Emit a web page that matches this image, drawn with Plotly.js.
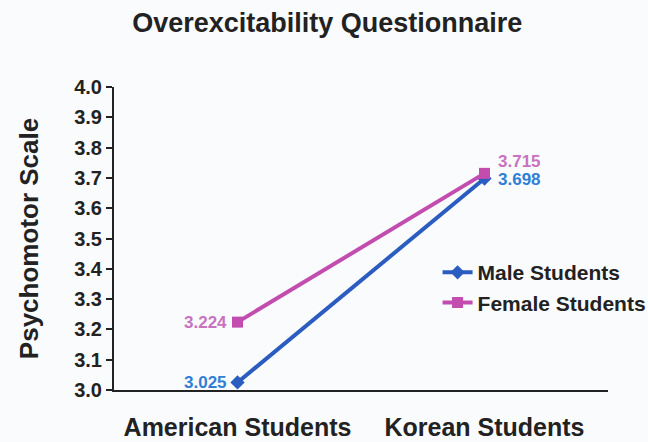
<!DOCTYPE html>
<html><head><meta charset="utf-8">
<script src="https://cdn.plot.ly/plotly-3.0.1.min.js"></script>
<style>body{margin:0;background:#fafbfd}</style>
</head><body>
<div id="chart" style="width:648px;height:442px"></div>
<script>
const categories = ["American Students", "Korean Students"];
const maleValues = [3.025, 3.698];
const femaleValues = [3.224, 3.715];
const maleLabels = ["3.025", "3.698"];
const femaleLabels = ["3.224", "3.715"];
const yTicks = [3.0,3.1,3.2,3.3,3.4,3.5,3.6,3.7,3.8,3.9,4.0];

const F = "Liberation Sans, Arial, sans-serif";
const blue = "#2b5cc0", magenta = "#c24daf";
const blueText = "#2f7fd6", magentaText = "#c872c0";

const traces = [
  {x: categories, y: maleValues, name: "Male Students", mode: "lines+markers",
   line: {color: blue, width: 4}, marker: {symbol: "diamond", size: 11, color: blue}, cliponaxis: false},
  {x: categories, y: femaleValues, name: "Female Students", mode: "lines+markers",
   line: {color: magenta, width: 4}, marker: {symbol: "square", size: 11, color: magenta}, cliponaxis: false}
];

// label placement per point (style only)
const maleShift = [{xa: "right", xs: -9, ys: 0}, {xa: "left", xs: 11, ys: -1}];
const femaleShift = [{xa: "right", xs: -9, ys: 0}, {xa: "left", xs: 11, ys: 12}];
const annotations = [];
categories.forEach((c, i) => {
  annotations.push({x: c, y: maleValues[i], text: "<b>" + maleLabels[i] + "</b>", showarrow: false,
    xanchor: maleShift[i].xa, yanchor: "middle", xshift: maleShift[i].xs, yshift: maleShift[i].ys,
    font: {family: F, size: 17, color: blueText}});
  annotations.push({x: c, y: femaleValues[i], text: "<b>" + femaleLabels[i] + "</b>", showarrow: false,
    xanchor: femaleShift[i].xa, yanchor: "middle", xshift: femaleShift[i].xs, yshift: femaleShift[i].ys,
    font: {family: F, size: 17, color: magentaText}});
});

const layout = {
  width: 648, height: 442,
  paper_bgcolor: "#fafbfd", plot_bgcolor: "#fafbfd",
  margin: {l: 114, r: 40, t: 87, b: 52, autoexpand: false},
  title: {text: "<b>Overexcitability Questionnaire</b>", font: {family: F, size: 27, color: "#222"},
          x: 0.505, xanchor: "center", y: 0.95, yanchor: "middle", yref: "container"},
  xaxis: {type: "category", range: [-0.5, 1.5], showgrid: false, zeroline: false,
          showline: true, linecolor: "#222", linewidth: 2, ticks: "", ticklabelstandoff: 14,
          tickfont: {family: F, size: 25, color: "#222", weight: "bold"}},
  yaxis: {range: [3.0, 4.0], tickvals: yTicks, ticktext: yTicks.map(v => v.toFixed(1)),
          showgrid: false, zeroline: false, showline: true, linecolor: "#222", linewidth: 2,
          ticks: "outside", ticklen: 6, tickcolor: "#222", tickwidth: 1.5,
          tickfont: {family: F, size: 20, color: "#222", weight: "bold"},
          title: {text: "<b>Psychomotor Scale</b>", font: {family: F, size: 26, color: "#222"}, standoff: 28}},
  legend: {x: 0.655, y: 0.455, xanchor: "left", yanchor: "top", bgcolor: "rgba(0,0,0,0)",
           font: {family: F, size: 21, color: "#222", weight: "bold"}, tracegroupgap: 0},
  annotations: annotations,
  showlegend: true
};

Plotly.newPlot("chart", traces, layout, {displayModeBar: false});
</script>
</body></html>
